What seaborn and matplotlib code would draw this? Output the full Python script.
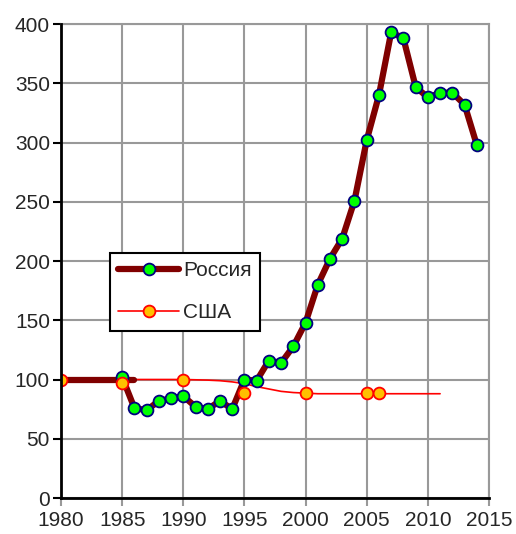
import matplotlib
matplotlib.use("Agg")
import matplotlib.pyplot as plt
import seaborn as sns
import pandas as pd
from matplotlib.lines import Line2D

# данные
ru_years = [1985, 1986, 1987, 1988, 1989, 1990, 1991, 1992, 1993, 1994, 1995,
            1996, 1997, 1998, 1999, 2000, 2001, 2002, 2003, 2004, 2005, 2006,
            2007, 2008, 2009, 2010, 2011, 2012, 2013, 2014]
ru_values = [102, 76, 74, 82, 84, 86, 77, 75, 82, 75, 100,
             99, 116, 114, 128, 148, 180, 202, 219, 251, 302, 340,
             393, 388, 347, 338, 342, 342, 332, 298]
ru_base_years = [1980, 1986]
ru_base_values = [100, 100]

us_line_years = [1980, 1985, 1990, 1992, 1993, 1994, 1995, 1996, 1997, 1998,
                 1999, 2000, 2001, 2005, 2011]
us_line_values = [100, 100, 100, 99.5, 99, 98, 96.5, 94, 92, 90,
                  89, 88.5, 88, 88, 88]
us_mark_years = [1980, 1985, 1990, 1995, 2000, 2005, 2006]
us_mark_values = [100, 97, 100, 89, 89, 89, 89]

x_ticks = list(range(1980, 2016, 5))
y_ticks = list(range(0, 401, 50))

sns.set_style("white")
plt.rcParams['font.family'] = ['Liberation Sans', 'DejaVu Sans']

fig = plt.figure(figsize=(5.16, 5.34), dpi=100)
ax = fig.add_axes([0.1182, 0.0674, 0.8295, 0.8876])

ru = pd.DataFrame({"year": ru_years, "value": ru_values})
ru_base = pd.DataFrame({"year": ru_base_years, "value": ru_base_values})
us_line = pd.DataFrame({"year": us_line_years, "value": us_line_values})
us_mark = pd.DataFrame({"year": us_mark_years, "value": us_mark_values})

dark_red = "#800000"
sns.lineplot(data=us_line, x="year", y="value", ax=ax, color="#ff0000",
             linewidth=1.2, zorder=3)
sns.lineplot(data=ru_base, x="year", y="value", ax=ax, color=dark_red,
             linewidth=4.5, zorder=4, solid_capstyle="round")
sns.lineplot(data=ru, x="year", y="value", ax=ax, color=dark_red,
             linewidth=4.5, zorder=4, solid_joinstyle="round",
             solid_capstyle="round")
ax.plot(ru["year"], ru["value"], linestyle="none", marker="o", markersize=8.5,
        markerfacecolor="#00ff00", markeredgecolor="#000080",
        markeredgewidth=1.3, zorder=5)
ax.plot(us_mark["year"], us_mark["value"], linestyle="none", marker="o",
        markersize=8.5, markerfacecolor="#ffc000", markeredgecolor="#ff0000",
        markeredgewidth=1.3, zorder=6)

ax.set_xlim(1980, 2015)
ax.set_ylim(0, 400)
ax.set_xticks(x_ticks)
ax.set_yticks(y_ticks)
ax.set_xlabel("")
ax.set_ylabel("")
ax.grid(True, color="#999999", linewidth=1.5, zorder=0)
ax.set_axisbelow(True)

for side in ["top", "right"]:
    ax.spines[side].set_color("#999999")
    ax.spines[side].set_linewidth(1.5)
for side in ["left", "bottom"]:
    ax.spines[side].set_color("black")
    ax.spines[side].set_linewidth(2)
ax.spines["left"].set_zorder(7)

ax.tick_params(axis="y", direction="out", length=6, width=1.5, color="black",
               labelsize=15, pad=2, left=True)
ax.tick_params(axis="x", direction="out", length=6, width=1.5, color="#999999",
               labelsize=15, pad=3, bottom=True)

handles = [
    Line2D([], [], color=dark_red, linewidth=4.5, marker="o", markersize=8.5,
           markerfacecolor="#00ff00", markeredgecolor="#000080",
           markeredgewidth=1.3),
    Line2D([], [], color="#ff0000", linewidth=1.2, marker="o", markersize=8.5,
           markerfacecolor="#ffc000", markeredgecolor="#ff0000",
           markeredgewidth=1.3),
]
leg = ax.legend(handles, ["Россия", "США"], loc="upper left",
                bbox_to_anchor=(0.1145, 0.517), fontsize=15, fancybox=False,
                framealpha=1, edgecolor="black", handlelength=2.9,
                labelspacing=1.1, borderpad=0.4, handletextpad=0.2,
                borderaxespad=0)
leg.get_frame().set_linewidth(1.5)
leg.set_zorder(10)

fig.savefig("out.png", dpi=100)
